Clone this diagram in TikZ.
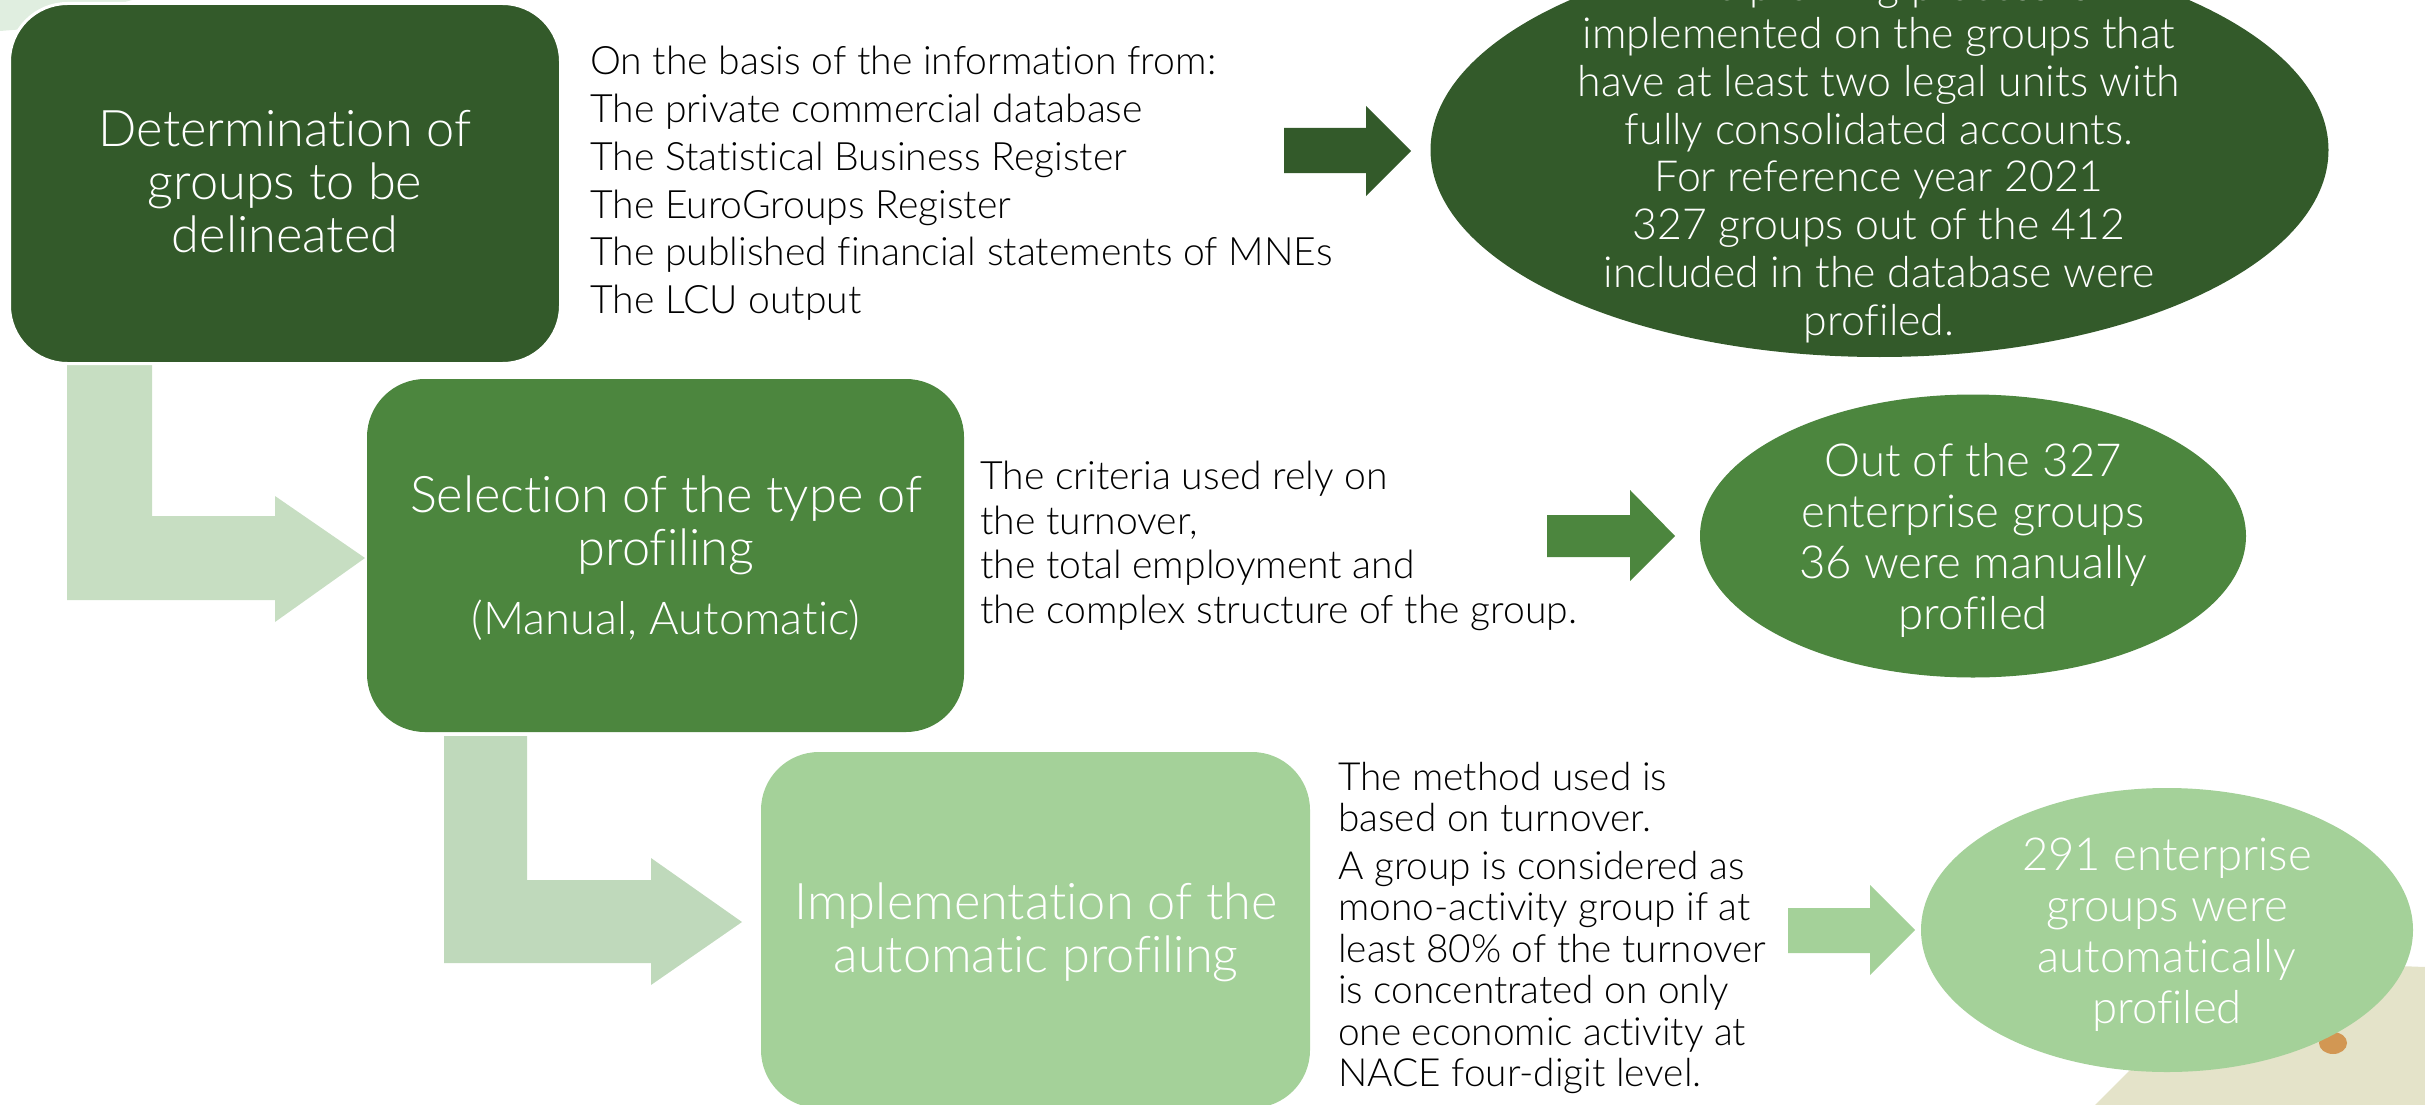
\documentclass[tikz,border=0pt]{standalone}
\usepackage{fontspec}
\setmainfont{Lato Light}[Ligatures=CommonOff]
\definecolor{dk}{HTML}{335A2A}
\definecolor{md}{HTML}{4C863E}
\definecolor{lt}{HTML}{A4D199}
\definecolor{pa}{HTML}{C7DEC2}
\definecolor{pb}{HTML}{BFD9BB}
\definecolor{bg}{HTML}{E4E3C9}
\definecolor{bgt}{HTML}{E0EEE0}
\definecolor{og}{HTML}{D29753}
\tikzset{
  x=1pt,y=-1pt,
  big/.style={text=white,align=center,font=\fontsize{50.5}{53}\selectfont,inner sep=0pt},
  ell/.style={text=white,align=center,font=\fontsize{42.8}{47.9}\selectfont,inner sep=0pt},
  mid/.style={text=white,align=center,font=\fontsize{45.5}{51}\selectfont,inner sep=0pt},
  side/.style={text=black,align=left,anchor=north west,font=\fontsize{39.1}{47.8}\selectfont,inner sep=0pt}
}
\begin{document}
\begin{tikzpicture}
\useasboundingbox (0,0) rectangle (2425,1105);
\fill[bgt] (0,0) -- (132,0) -- (118,4) -- (60,4) -- (25,29) -- (0,31) -- cycle;
\fill[bg] (2095,1105) -- (2240,960) -- (2425,967) -- (2425,1105) -- cycle;
\fill[og] (2333,1043) ellipse (14 and 11);
\fill[pa] (67,365) -- (152,365) -- (152,516) -- (275,516) -- (275,496) -- (365,558) -- (275,622) -- (275,600) -- (67,600) -- cycle;
\fill[pb] (444,736) -- (527,736) -- (527,880) -- (651,880) -- (651,858) -- (742,922) -- (651,985) -- (651,963) -- (444,963) -- cycle;
\fill[dk] (1284,128) -- (1366,128) -- (1366,106) -- (1411,151) -- (1366,196) -- (1366,173) -- (1284,173) -- cycle;
\fill[md] (1547,515) -- (1630,515) -- (1630,490) -- (1675,536) -- (1630,581) -- (1630,557) -- (1547,557) -- cycle;
\fill[lt] (1788,908) -- (1870,908) -- (1870,885) -- (1915,930) -- (1870,975) -- (1870,953) -- (1788,953) -- cycle;
\filldraw[fill=dk,draw=white,line width=3pt,rounded corners=58] (9.5,3.5) rectangle (560.5,363.5);
\fill[md,rounded corners=58] (367,379) rectangle (964,732);
\fill[lt,rounded corners=58] (761,752) rectangle (1310,1108);
\fill[dk] (1879.5,150) ellipse (449 and 207);
\fill[md] (1973,536) ellipse (273 and 141.5);
\fill[lt] (2167,930) ellipse (246 and 142);
\node[big] (a) at (285,182) {Determination of\\groups to be\\delineated};
\node[big] (b) at (666,525) {Selection of the type of\\profiling};
\node[ell,font=\fontsize{45.3}{50}\selectfont] (b2) at (666,620) {(Manual, Automatic)};
\node[big] (c) at (1036,932.5) {Implementation of the\\automatic profiling};
\node[side] (sa) at (590,46) {On the basis of the information from:\\The private commercial database\\The Statistical Business Register\\The EuroGroups Register\\The published financial statements of MNEs\\The LCU output};
\node[side,font=\fontsize{39.1}{44.5}\selectfont] (sb) at (980,461) {The criteria used rely on\\the turnover,\\the total employment and\\the complex structure of the group.};
\node[side,font=\fontsize{38.8}{41.5}\selectfont] (sc) at (1338,762) {The method used is\\based on turnover.\\[6pt]A group is considered as\\mono-activity group if at\\least 80\% of the turnover\\is concentrated on only\\one economic activity at\\NACE four-digit level.};
\node[ell,anchor=north] (ea) at (1879,-31) {The profiling process is\\implemented on the groups that\\have at least two legal units with\\fully consolidated accounts.\\For reference year 2021\\327 groups out of the 412\\included in the database were\\profiled.};
\node[mid] (eb) at (1973,540) {Out of the 327\\enterprise groups\\36 were manually\\profiled};
\node[mid] (ec) at (2167,935) {291 enterprise\\groups were\\automatically\\profiled};
\end{tikzpicture}
\end{document}
